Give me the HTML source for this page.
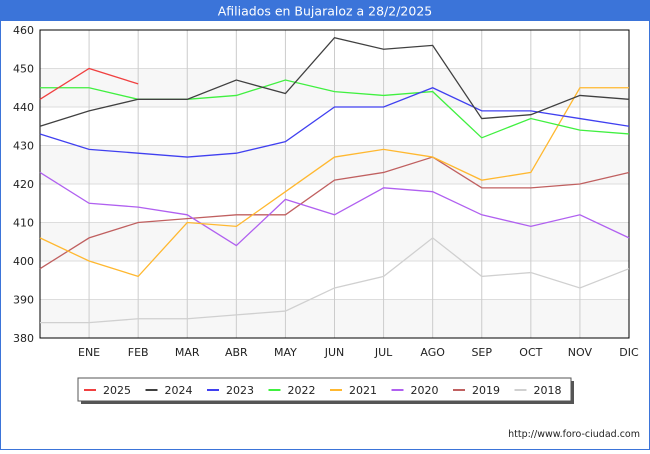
<!DOCTYPE html>
<html><head><meta charset="utf-8"><style>
body{margin:0;background:#fff;font-family:"DejaVu Sans",sans-serif;}
</style></head><body>
<svg id="c" width="650" height="450" xmlns="http://www.w3.org/2000/svg" font-family="DejaVu Sans, sans-serif">
<rect x="0.5" y="0.5" width="649" height="449" fill="#fff" stroke="#3b74d9"/>
<rect x="0" y="0" width="650" height="21" fill="#3b74d9"/>
<text x="325" y="15.5" text-anchor="middle" fill="#fff" font-size="12.5">Afiliados en Bujaraloz a 28/2/2025</text>
<g id="plot"></g>
<text x="640" y="437" text-anchor="end" font-size="9.5" fill="#222">http://www.foro-ciudad.com</text>
</svg>
<script>
const months=["","ENE","FEB","MAR","ABR","MAY","JUN","JUL","AGO","SEP","OCT","NOV","DIC"];
const yTicks=[380,390,400,410,420,430,440,450,460];
const seriesNames=["2025","2024","2023","2022","2021","2020","2019","2018"];
const seriesColors=["#f04040","#404040","#4040f0","#40f040","#ffb830","#b060f0","#c06060","#d0d0d0"];
const s2025=[442,450,446];
const s2024=[435,439,442,442,447,443.5,458,455,456,437,438,443,442];
const s2023=[433,429,428,427,428,431,440,440,445,439,439,437,435];
const s2022=[445,445,442,442,443,447,444,443,444,432,437,434,433];
const s2021=[406,400,396,410,409,418,427,429,427,421,423,445,445];
const s2020=[423,415,414,412,404,416,412,419,418,412,409,412,406];
const s2019=[398,406,410,411,412,412,421,423,427,419,419,420,423];
const s2018=[384,384,385,385,386,387,393,396,406,396,397,393,398];
const seriesData=[s2025,s2024,s2023,s2022,s2021,s2020,s2019,s2018];

const X0=40,X1=629,Y0=338,Y1=30,ymin=380,ymax=460;
const xs=i=>X0+i*(X1-X0)/12;
const ys=v=>Y0-(v-ymin)*(Y0-Y1)/(ymax-ymin);
const NS="http://www.w3.org/2000/svg";
const g=document.getElementById('plot');
function mk(t,a,p){const e=document.createElementNS(NS,t);for(const k in a)e.setAttribute(k,a[k]);(p||g).appendChild(e);return e;}
for(let i=0;i<yTicks.length-1;i+=2){
 const r=mk('rect',{x:X0,y:ys(yTicks[i+1]),width:X1-X0,height:ys(yTicks[i])-ys(yTicks[i+1]),fill:'#f7f7f7'});
 
 
}
yTicks.forEach(v=>{
 const l=mk('line',{x1:X0,x2:X1,y1:ys(v),y2:ys(v),stroke:'#ddd'});
 
 
 const t=mk('text',{x:X0-6,y:ys(v)+4,'text-anchor':'end','font-size':11,fill:'#222'});t.textContent=v;
 
 
});
months.forEach((m,i)=>{
 const l=mk('line',{x1:xs(i),x2:xs(i),y1:Y1,y2:Y0,stroke:'#ccc'});
 
 
 if(m){const t=mk('text',{x:xs(i),y:356,'text-anchor':'middle','font-size':11,fill:'#222'});t.textContent=m;
 
 }
});
const b=mk('rect',{x:X0,y:Y1,width:X1-X0,height:Y0-Y1,fill:'none',stroke:'#000'});


for(let k=seriesData.length-1;k>=0;k--){
 const d=seriesData[k].map((v,i)=>(i?'L':'M')+xs(i)+','+ys(v)).join('');
 const p=mk('path',{d:d,fill:'none',stroke:seriesColors[k],'stroke-width':1.3});
 
 
}
const lg=mk('g',{});


mk('rect',{x:81,y:381,width:493,height:23,fill:'#555'},lg);
mk('rect',{x:78,y:378,width:493,height:23,fill:'#fff',stroke:'#555'},lg);
seriesNames.forEach((n,k)=>{
 const x=84+k*61.5;
 const l=mk('line',{x1:x,x2:x+12,y1:390,y2:390,stroke:seriesColors[k],'stroke-width':2},lg);
 
 
 const t=mk('text',{x:x+19,y:394,'font-size':11,fill:'#222'},lg);t.textContent=n;
 
 
});
</script>
</body></html>
